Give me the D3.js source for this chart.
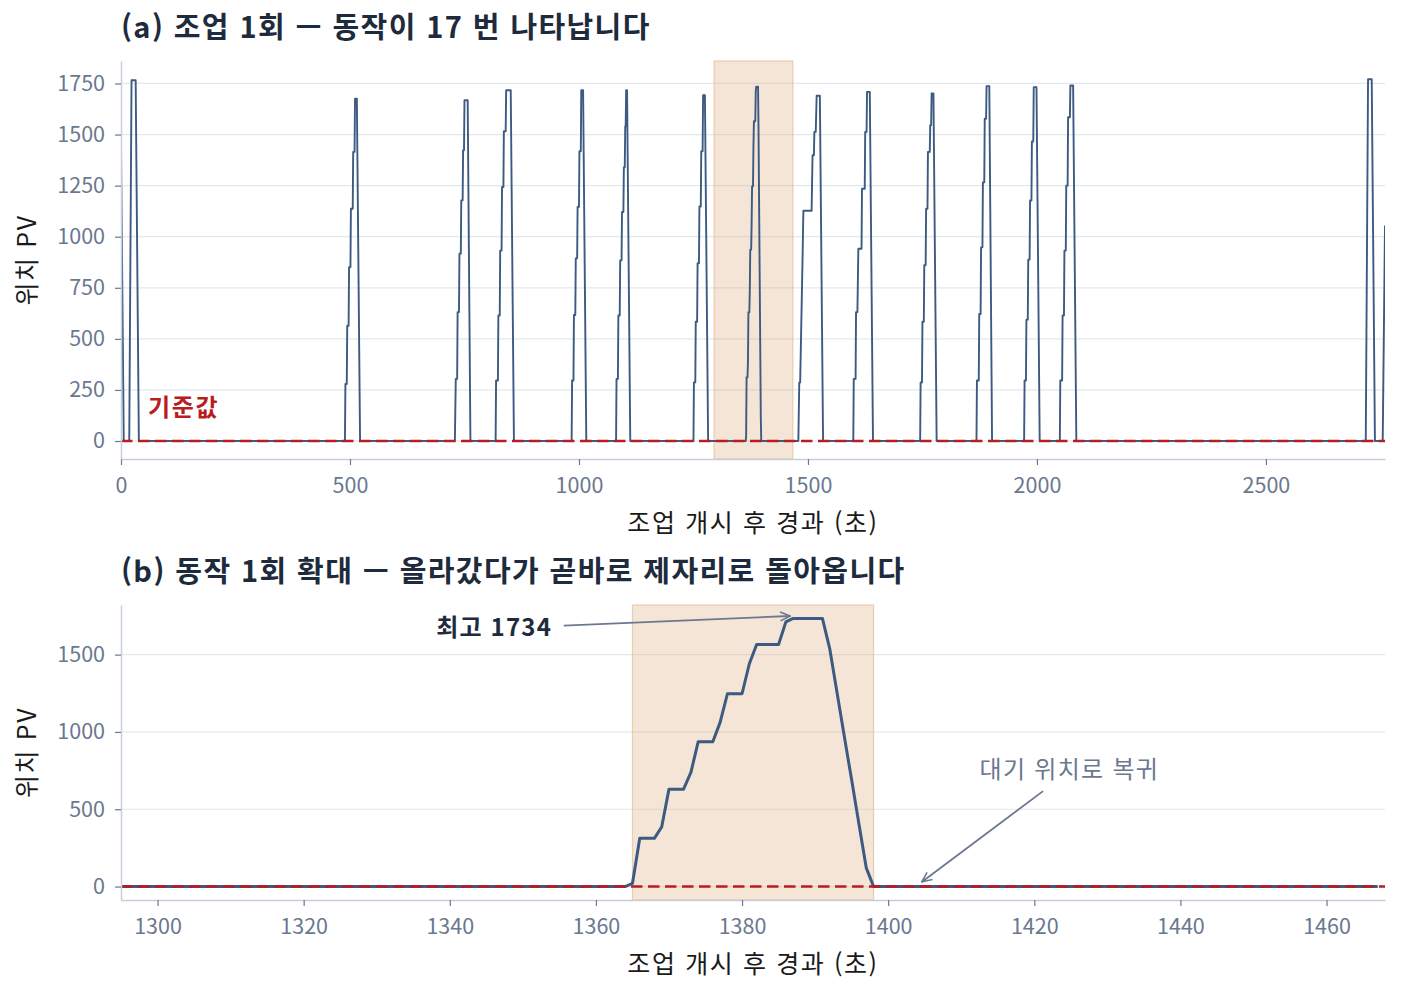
<!DOCTYPE html>
<html lang="ko">
<head>
<meta charset="UTF-8">
<title>조업 위치 PV</title>
<script src="https://d3js.org/d3.v7.min.js"></script>
<style>
  body { margin: 0; background: #fff; }
  svg text { font-family: "Noto Sans CJK KR", "Noto Sans", sans-serif; }
  .axis .tick text { fill: #6b7890; font-size: 21.5px; }
  .axis .tick line { stroke: #6b7890; stroke-width: 1.2; }
  .axis .domain { stroke: #c5cfdb; stroke-width: 1.5; }
  .grid line { stroke: #e3e8ee; stroke-width: 1.2; }
</style>
</head>
<body>
<div id="chart"></div>
<script>
// position PV trace of one run, breakpoints [seconds, PV]
const pvTrace = [
  [0, 1431], [6, 0],
  [18, 0], [23, 1766], [32, 1766], [39, 0],
  [489, 0], [490, 279], [493, 279], [494, 564], [497, 564], [498, 851], [501, 851], [502, 1137], [506, 1137], [507, 1415], [510, 1415], [511, 1676], [515, 1676], [522, 0],
  [729, 0], [731, 304], [734, 304], [735, 631], [738, 631], [739, 917], [742, 917], [743, 1178], [746, 1178], [747, 1423], [749, 1423], [750, 1668], [757, 1668], [763, 0],
  [818, 0], [819, 296], [823, 296], [824, 614], [827, 614], [828, 932], [831, 932], [832, 1243], [835, 1243], [836, 1516], [840, 1516], [841, 1717], [851, 1717], [858, 0],
  [984, 0], [985, 296], [988, 296], [989, 617], [992, 617], [993, 894], [996, 894], [997, 1146], [1000, 1146], [1001, 1418], [1004, 1418], [1005, 1717], [1009, 1717], [1016, 0],
  [1081, 0], [1082, 304], [1085, 304], [1086, 614], [1089, 614], [1090, 884], [1093, 884], [1094, 1121], [1097, 1121], [1098, 1340], [1100, 1340], [1101, 1540], [1102, 1540], [1103, 1717], [1105, 1717], [1112, 0],
  [1250, 0], [1251, 287], [1254, 287], [1255, 584], [1258, 584], [1259, 870], [1262, 870], [1263, 1148], [1266, 1148], [1267, 1418], [1270, 1418], [1271, 1693], [1275, 1693], [1282, 0],
  [1364, 0], [1365, 20], [1366, 312], [1368, 312], [1369, 385], [1370, 630], [1372, 630], [1373, 738], [1374, 937], [1376, 937], [1377, 1062], [1378, 1247], [1380, 1247], [1381, 1441], [1382, 1565], [1385, 1565], [1386, 1712], [1387, 1734], [1391, 1734], [1392, 1539], [1393, 1255], [1394, 970], [1395, 690], [1396, 405], [1397, 121], [1398, 0],
  [1479, 0], [1481, 287], [1483, 287], [1488, 870], [1490, 1127], [1508, 1127], [1510, 1399], [1513, 1399], [1514, 1513], [1517, 1513], [1519, 1690], [1526, 1690], [1533, 0],
  [1599, 0], [1600, 304], [1604, 304], [1605, 631], [1608, 631], [1610, 941], [1617, 941], [1618, 1235], [1624, 1235], [1625, 1513], [1628, 1513], [1629, 1709], [1635, 1709], [1642, 0],
  [1745, 0], [1746, 287], [1749, 287], [1750, 584], [1753, 584], [1754, 861], [1757, 861], [1758, 1137], [1761, 1137], [1762, 1415], [1766, 1415], [1767, 1546], [1769, 1546], [1770, 1701], [1774, 1701], [1781, 0],
  [1868, 0], [1869, 296], [1873, 296], [1874, 622], [1877, 622], [1878, 948], [1881, 948], [1882, 1266], [1885, 1266], [1886, 1577], [1889, 1577], [1890, 1737], [1896, 1737], [1902, 0],
  [1972, 0], [1973, 296], [1976, 296], [1977, 594], [1980, 594], [1981, 888], [1984, 888], [1985, 1177], [1988, 1177], [1989, 1466], [1992, 1466], [1993, 1732], [1999, 1732], [2006, 0],
  [2050, 0], [2051, 296], [2055, 296], [2056, 614], [2059, 614], [2060, 932], [2063, 932], [2064, 1250], [2067, 1250], [2068, 1585], [2072, 1585], [2073, 1740], [2079, 1740], [2086, 0],
  [2718, 0], [2723, 1771], [2731, 1771], [2738, 0],
  [2755, 0], [2760, 1055]
];

const baselinePV = 0;

// panel (a)
const xDomainA = [0, 2760];
const yDomainA = [-88, 1860];
const xTicksA = [0, 500, 1000, 1500, 2000, 2500];
const yTicksA = [0, 250, 500, 750, 1000, 1250, 1500, 1750];
const zoomWindow = [1295, 1467];

// panel (b)
const xDomainB = [1295, 1468];
const yDomainB = [-87, 1821];
const xTicksB = [1300, 1320, 1340, 1360, 1380, 1400, 1420, 1440, 1460];
const yTicksB = [0, 500, 1000, 1500];
const motionWindow = [1365, 1398];

// annotations: text anchor and arrow [from -> to] in data units
const peakLabel = "최고 1734";
const peakText = [1354, 1622];
const peakArrow = [[1355.6, 1688], [1386.6, 1750]];
const returnLabel = "대기 위치로 복귀";
const returnText = [1424.8, 705];
const returnArrow = [[1421.2, 617], [1404.6, 30]];

const titleA = "(a) 조업 1회 — 동작이 17 번 나타납니다";
const titleB = "(b) 동작 1회 확대 — 올라갔다가 곧바로 제자리로 돌아옵니다";
const xLabel = "조업 개시 후 경과 (초)";
const yLabel = "위치 PV";
const baseLabel = "기준값";

const W = 1402, H = 995;
const lineColor = "#3d5a80";
const baseColor = "#b81d22";
const muted = "#6b7890";
const ink = "#1e2b3c";

const svg = d3.select("#chart").append("svg")
  .attr("width", W).attr("height", H);

const defs = svg.append("defs");
defs.append("marker")
  .attr("id", "arrowhead")
  .attr("viewBox", "0 0 12 12")
  .attr("refX", 11).attr("refY", 6)
  .attr("markerWidth", 12).attr("markerHeight", 12)
  .attr("markerUnits", "userSpaceOnUse")
  .attr("orient", "auto")
  .append("path")
  .attr("d", "M1,1.5 L11,6 L1,10.5")
  .attr("fill", "none")
  .attr("stroke", muted)
  .attr("stroke-width", 1.6);

function panel(opt) {
  const { left, right, top, bottom } = opt.box;
  const x = d3.scaleLinear().domain(opt.xDomain).range([left, right]);
  const y = d3.scaleLinear().domain(opt.yDomain).range([bottom, top]);
  const g = svg.append("g");

  // horizontal grid
  g.append("g").attr("class", "grid")
    .selectAll("line").data(opt.yTicks).join("line")
    .attr("x1", left).attr("x2", right)
    .attr("y1", d => y(d)).attr("y2", d => y(d));

  // shaded window
  g.append("rect")
    .attr("x", x(opt.band[0]))
    .attr("width", x(opt.band[1]) - x(opt.band[0]))
    .attr("y", top).attr("height", bottom - top)
    .attr("fill", "#dba878").attr("fill-opacity", 0.3)
    .attr("stroke", "#e3b48a").attr("stroke-opacity", 0.6).attr("stroke-width", 1.2);

  // clip for the trace
  const clipId = opt.id + "-clip";
  defs.append("clipPath").attr("id", clipId)
    .append("rect")
    .attr("x", x(opt.clip[0])).attr("width", x(opt.clip[1]) - x(opt.clip[0]))
    .attr("y", top - 10).attr("height", bottom - top + 20);

  const line = d3.line().x(d => x(d[0])).y(d => y(d[1]));
  g.append("path")
    .datum(pvTrace)
    .attr("clip-path", `url(#${clipId})`)
    .attr("fill", "none")
    .attr("stroke", lineColor)
    .attr("stroke-width", opt.lineWidth)
    .attr("stroke-linejoin", "round")
    .attr("d", line);

  // reference line
  g.append("line")
    .attr("x1", left).attr("x2", right)
    .attr("y1", y(baselinePV)).attr("y2", y(baselinePV))
    .attr("stroke", baseColor)
    .attr("stroke-width", 2.5)
    .attr("stroke-dasharray", "11.5,5.5");

  // axes
  const fmt = d3.format("d");
  g.append("g").attr("class", "axis")
    .attr("transform", `translate(0,${bottom})`)
    .call(d3.axisBottom(x).tickValues(opt.xTicks).tickFormat(fmt).tickSize(6).tickSizeOuter(0).tickPadding(9))
    .call(a => a.selectAll("text").attr("dy", "0.9em"));
  g.append("g").attr("class", "axis")
    .attr("transform", `translate(${left},0)`)
    .call(d3.axisLeft(y).tickValues(opt.yTicks).tickFormat(fmt).tickSize(6).tickSizeOuter(0).tickPadding(10));
  g.selectAll(".axis text").attr("font-family", null);

  // titles and labels
  g.append("text")
    .attr("x", left).attr("y", opt.titleY)
    .attr("fill", ink).attr("font-size", 29).attr("font-weight", 700)
    .attr("letter-spacing", 1.4)
    .text(opt.title);
  g.append("text")
    .attr("x", (left + right) / 2).attr("y", opt.xLabelY)
    .attr("text-anchor", "middle")
    .attr("fill", "#1a1a1a").attr("font-size", 25)
    .attr("letter-spacing", 1.6)
    .text(xLabel);
  g.append("text")
    .attr("transform", `translate(36,${(top + bottom) / 2}) rotate(-90)`)
    .attr("text-anchor", "middle")
    .attr("fill", "#1a1a1a").attr("font-size", 25)
    .attr("letter-spacing", 1.6)
    .text(yLabel);

  return { g, x, y };
}

const a = panel({
  id: "a",
  box: { left: 121, right: 1385, top: 61, bottom: 459 },
  xDomain: xDomainA, yDomain: yDomainA,
  xTicks: xTicksA, yTicks: yTicksA,
  band: zoomWindow, clip: xDomainA,
  lineWidth: 1.9,
  title: titleA, titleY: 38, xLabelY: 532
});

a.g.append("text")
  .attr("x", a.x(59)).attr("y", a.y(baselinePV) - 25)
  .attr("fill", baseColor).attr("font-size", 24).attr("font-weight", 700)
  .attr("letter-spacing", 1.6)
  .text(baseLabel);

const b = panel({
  id: "b",
  box: { left: 121, right: 1385, top: 605, bottom: 900 },
  xDomain: xDomainB, yDomain: yDomainB,
  xTicks: xTicksB, yTicks: yTicksB,
  band: motionWindow, clip: [1295, 1467],
  lineWidth: 3,
  title: titleB, titleY: 582, xLabelY: 973
});

function arrow(p, from, to) {
  p.g.append("line")
    .attr("x1", p.x(from[0])).attr("y1", p.y(from[1]))
    .attr("x2", p.x(to[0])).attr("y2", p.y(to[1]))
    .attr("stroke", muted).attr("stroke-width", 1.8)
    .attr("marker-end", "url(#arrowhead)");
}

arrow(b, peakArrow[0], peakArrow[1]);
b.g.append("text")
  .attr("x", b.x(peakText[0])).attr("y", b.y(peakText[1]))
  .attr("text-anchor", "end")
  .attr("fill", ink).attr("font-size", 24).attr("font-weight", 700)
  .attr("letter-spacing", 1.2)
  .text(peakLabel);

arrow(b, returnArrow[0], returnArrow[1]);
b.g.append("text")
  .attr("x", b.x(returnText[0])).attr("y", b.y(returnText[1]))
  .attr("text-anchor", "middle")
  .attr("fill", muted).attr("font-size", 24)
  .attr("letter-spacing", 1.3)
  .text(returnLabel);
</script>
</body>
</html>
